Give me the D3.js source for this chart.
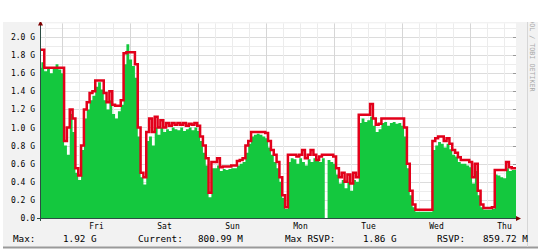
<!DOCTYPE html>
<html>
<head>
<meta charset="utf-8">
<script src="https://cdn.jsdelivr.net/npm/d3@7"></script>
<style>
  body { margin: 0; background: #fff; }
  svg { display: block; }
  text { font-family: "DejaVu Sans Mono", monospace; }
</style>
</head>
<body>
<div class="chart"></div>
<script>
// hourly samples, in G, starting Thu 16:14
var rsvp = [
  1.86, 1.86, 1.66, 1.66, 1.66, 1.66, 1.66, 1.66, 1.66, 0.85,
  1.00, 1.20, 1.10, 0.55, 0.47, 0.80, 1.20, 1.28, 1.38, 1.40,
  1.52, 1.52, 1.52, 1.38, 1.28, 1.40, 1.25, 1.24, 1.24, 1.30,
  1.82, 1.83, 1.83, 1.83, 1.70, 1.00, 0.50, 0.45, 0.95, 1.10,
  0.95, 1.12, 1.00, 1.08, 1.00, 1.05, 1.02, 1.05, 1.03, 1.05,
  1.03, 1.05, 1.02, 1.04, 1.03, 1.05, 1.02, 0.90, 0.80, 0.66,
  0.28, 0.62, 0.62, 0.66, 0.56, 0.57, 0.57, 0.57, 0.58, 0.58,
  0.63, 0.64, 0.66, 0.80, 0.85, 0.95, 0.95, 0.95, 0.95, 0.95,
  0.94, 0.85, 0.75, 0.70, 0.62, 0.45, 0.25, 0.12, 0.70, 0.70,
  0.70, 0.68, 0.70, 0.75, 0.66, 0.70, 0.75, 0.70, 0.64, 0.68,
  0.70, 0.70, 0.70, 0.70, 0.68, 0.55, 0.45, 0.50, 0.40, 0.48,
  0.38, 0.50, 0.45, 1.14, 1.14, 1.14, 1.14, 1.26, 1.10, 1.03,
  1.04, 1.10, 1.10, 1.10, 1.10, 1.10, 1.10, 1.10, 1.10, 1.00,
  0.60, 0.30, 0.15, 0.09, 0.09, 0.09, 0.09, 0.09, 0.09, 0.85,
  0.88, 0.90, 0.90, 0.85, 0.88, 0.82, 0.75, 0.72, 0.67, 0.64,
  0.64, 0.64, 0.62, 0.45, 0.60, 0.30, 0.15, 0.11, 0.11, 0.11,
  0.12, 0.53, 0.53, 0.53, 0.53, 0.62, 0.56, 0.55, 0.55
];
var traffic = [
  1.66, 1.72, 1.62, 1.65, 1.60, 1.66, 1.70, 1.64, 1.60, 0.80,
  0.70, 1.15, 0.95, 0.50, 0.42, 0.75, 1.10, 1.20, 1.30, 1.35,
  1.45, 1.50, 1.42, 1.30, 1.20, 1.30, 1.15, 1.10, 1.18, 1.25,
  1.70, 1.92, 1.75, 1.68, 1.55, 0.90, 0.45, 0.37, 0.85, 0.90,
  0.80, 1.00, 0.92, 1.00, 0.95, 0.98, 0.96, 1.00, 0.98, 0.97,
  1.00, 0.96, 0.98, 1.00, 0.97, 1.00, 0.96, 0.85, 0.72, 0.58,
  0.23, 0.55, 0.55, 0.58, 0.52, 0.54, 0.53, 0.54, 0.55, 0.55,
  0.58, 0.60, 0.62, 0.72, 0.82, 0.90, 0.92, 0.93, 0.92, 0.90,
  0.88, 0.78, 0.70, 0.62, 0.55, 0.40, 0.22, 0.10, 0.62, 0.66,
  0.65, 0.60, 0.66, 0.62, 0.58, 0.65, 0.62, 0.66, 0.64, 0.62,
  0.66, 0.00, 0.64, 0.62, 0.60, 0.48, 0.38, 0.42, 0.33, 0.40,
  0.30, 0.42, 0.40, 1.05, 1.10, 1.06, 1.08, 1.12, 1.02, 0.95,
  0.98, 1.05, 1.06, 1.02, 1.05, 1.06, 1.04, 1.05, 1.02, 0.90,
  0.55, 0.25, 0.12, 0.07, 0.07, 0.07, 0.07, 0.07, 0.07, 0.75,
  0.80, 0.84, 0.82, 0.78, 0.82, 0.76, 0.70, 0.68, 0.62, 0.60,
  0.60, 0.58, 0.56, 0.38, 0.52, 0.25, 0.12, 0.09, 0.09, 0.09,
  0.10, 0.48, 0.47, 0.45, 0.44, 0.55, 0.52, 0.53, 0.53
];
var yTicks = [0, 0.2, 0.4, 0.6, 0.8, 1.0, 1.2, 1.4, 1.6, 1.8, 2.0];
var yTickLabels = ['0.0', '0.2 G', '0.4 G', '0.6 G', '0.8 G', '1.0 G',
                   '1.2 G', '1.4 G', '1.6 G', '1.8 G', '2.0 G'];
var dayLabels = ['Fri', 'Sat', 'Sun', 'Mon', 'Tue', 'Wed', 'Thu'];
var legendLabels = ['Max:', 'Current:', 'Max RSVP:', 'RSVP:'];
var legendValues = ['1.92 G', '800.99 M', '1.86 G', '859.72 M'];

var fullWidth = 540, fullHeight = 250;
var plot = { left: 40, right: 516, top: 23.4, bottom: 218 };

var start = new Date(2013, 4, 2, 16, 14);
var end = d3.timeHour.offset(start, 168);
var data = rsvp.map(function(r, i) {
  return { t: d3.timeHour.offset(start, i), rsvp: r, traffic: traffic[i] };
});

var svg = d3.select('.chart')
  .append('svg')
  .attr('width', fullWidth)
  .attr('height', fullHeight);

var xScale = d3.scaleTime().domain([start, end]).range([plot.left, plot.right]);
var yScale = d3.scaleLinear().domain([0, 2.15]).range([plot.bottom, plot.top]);

// frame
svg.append('rect').attr('x', 3).attr('y', 22).attr('width', 535).attr('height', 226)
  .attr('fill', '#f2f2f2');
svg.append('line').attr('x1', 3).attr('x2', 538).attr('y1', 247.5).attr('y2', 247.5)
  .attr('stroke', '#9a9a9a').attr('stroke-width', 2);
svg.append('line').attr('x1', 527.5).attr('x2', 527.5).attr('y1', 22).attr('y2', 247)
  .attr('stroke', '#d6d6d6');
svg.append('rect').attr('x', plot.left).attr('y', plot.top)
  .attr('width', plot.right - plot.left).attr('height', plot.bottom - plot.top)
  .attr('fill', '#fff');

// grid
var grid = svg.append('g');
var minorY = d3.range(1, 22).map(function(d) { return d / 10; });
grid.selectAll('.hy').data(minorY).enter().append('line')
  .attr('x1', plot.left).attr('x2', plot.right)
  .attr('y1', d => Math.round(yScale(d)) + 0.5).attr('y2', d => Math.round(yScale(d)) + 0.5)
  .attr('stroke', (d, i) => i % 2 ? '#dcdcdc' : '#ececec');
grid.selectAll('.vx').data(d3.timeHour.every(6).range(start, end)).enter().append('line')
  .attr('y1', plot.top).attr('y2', plot.bottom)
  .attr('x1', d => Math.round(xScale(d)) + 0.5).attr('x2', d => Math.round(xScale(d)) + 0.5)
  .attr('stroke', d => d.getHours() === 0 ? '#d6d6d6' : '#ececec');
// small ticks at right end of major lines
grid.selectAll('.rt').data(yTicks.slice(1)).enter().append('line')
  .attr('x1', plot.right - 3).attr('x2', plot.right)
  .attr('y1', d => Math.round(yScale(d)) + 0.5).attr('y2', d => Math.round(yScale(d)) + 0.5)
  .attr('stroke', '#999');

// traffic area + rsvp line
var area = d3.area()
  .curve(d3.curveStep)
  .x(d => xScale(d.t))
  .y0(plot.bottom)
  .y1(d => yScale(d.traffic));
svg.append('path').datum(data).attr('d', area).attr('fill', '#14c83e');

var line = d3.line()
  .curve(d3.curveStep)
  .x(d => xScale(d.t))
  .y(d => yScale(d.rsvp));
svg.append('path').datum(data).attr('d', line)
  .attr('fill', 'none').attr('stroke', '#e2001a').attr('stroke-width', 2.5);

// axes
var noon = d3.timeDay.range(d3.timeDay.ceil(start), end).map(d => d3.timeHour.offset(d, 12));
var xAxis = d3.axisBottom(xScale)
  .tickValues(noon)
  .tickFormat((d, i) => dayLabels[i])
  .tickSize(0)
  .tickPadding(5);
svg.append('g')
  .attr('transform', 'translate(0,' + plot.bottom + ')')
  .call(xAxis)
  .call(g => g.select('.domain').remove())
  .selectAll('text')
  .style('font-family', '"DejaVu Sans Mono", monospace')
  .style('font-size', '8px')
  .attr('fill', '#000');

var yAxis = d3.axisLeft(yScale)
  .tickValues(yTicks)
  .tickFormat((d, i) => yTickLabels[i])
  .tickSize(0)
  .tickPadding(5);
svg.append('g')
  .attr('transform', 'translate(' + plot.left + ',0)')
  .call(yAxis)
  .call(g => g.select('.domain').remove())
  .selectAll('text')
  .style('font-family', '"DejaVu Sans Mono", monospace')
  .style('font-size', '8px')
  .attr('fill', '#000');

svg.append('line').attr('x1', plot.left - 3).attr('x2', plot.right + 1)
  .attr('y1', plot.bottom + 0.5).attr('y2', plot.bottom + 0.5).attr('stroke', '#2c4d43');
svg.append('line').attr('x1', plot.left + 0.5).attr('x2', plot.left + 0.5)
  .attr('y1', plot.bottom + 3).attr('y2', plot.top - 1).attr('stroke', '#2c4d43');
svg.append('path')
  .attr('d', 'M' + (plot.right + 5) + ',' + (plot.bottom + 0.5) + 'l-5,-2.5v5z')
  .attr('fill', '#7f0000');
svg.append('path')
  .attr('d', 'M' + (plot.left + 0.5) + ',' + (plot.top - 3) + 'l-2.5,5h5z')
  .attr('fill', '#7f0000');

// legend
var legendX = [13, 138, 285, 437];
var valueX = [63, 198, 363, 483];
svg.selectAll('.ll').data(legendLabels).enter().append('text')
  .attr('x', (d, i) => legendX[i]).attr('y', 242)
  .style('font-size', '9.3px').text(d => d);
svg.selectAll('.lv').data(legendValues).enter().append('text')
  .attr('x', (d, i) => valueX[i]).attr('y', 242)
  .style('font-size', '9.3px').text(d => d);

// watermark
svg.append('text')
  .attr('transform', 'translate(530,3) rotate(90)')
  .style('font-size', '6.7px')
  .attr('fill', '#a8a8a8')
  .text('RRDTOOL / TOBI OETIKER');
svg.append('rect').attr('x', 0).attr('y', 0).attr('width', fullWidth).attr('height', 22)
  .attr('fill', '#fff');
</script>
</body>
</html>
